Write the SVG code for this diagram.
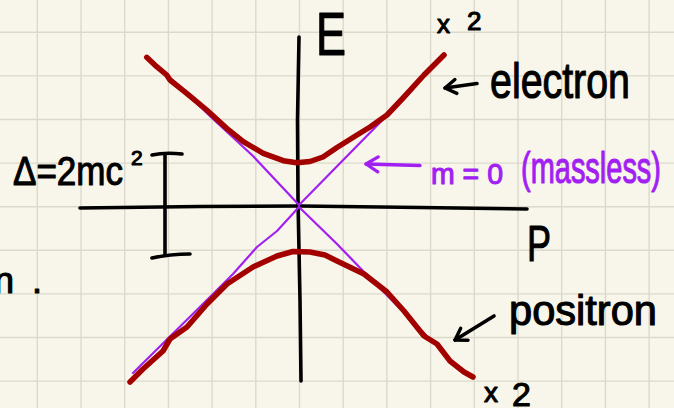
<svg xmlns="http://www.w3.org/2000/svg" width="674" height="408" viewBox="0 0 674 408">
<style>
.grid line{stroke:#dcd9cc;stroke-width:1.4}
.ink{fill:none;stroke:#000;stroke-width:3.6;stroke-linecap:round;stroke-linejoin:round}
.red{fill:none;stroke:#a30000;stroke-width:5.5;stroke-linecap:round;stroke-linejoin:round}
.pur{fill:none;stroke:#a21ff2;stroke-width:2.2;stroke-linecap:round;stroke-linejoin:round}
.purw{fill:none;stroke:#a21ff2;stroke-width:3.4;stroke-linecap:round;stroke-linejoin:round}
.t{font-family:"Liberation Sans","DejaVu Sans",sans-serif;fill:#000;stroke:#000;stroke-width:1.1;stroke-linejoin:round}
.tp{font-family:"Liberation Sans","DejaVu Sans",sans-serif;fill:#a21ff2;stroke:#a21ff2;stroke-width:1.1;stroke-linejoin:round}
</style>
<defs>
<marker id="hk" viewBox="-14 -10 16 20" refX="0" refY="0" markerWidth="16" markerHeight="20" markerUnits="userSpaceOnUse" orient="auto">
<path d="M-11,-7 L0,0 L-11,7" fill="none" stroke="#000" stroke-width="3.4" stroke-linecap="round" stroke-linejoin="round"/>
</marker>
<marker id="hp" viewBox="-14 -10 16 20" refX="0" refY="0" markerWidth="16" markerHeight="20" markerUnits="userSpaceOnUse" orient="auto">
<path d="M-12,-7.5 L0,0 L-12,7.5" fill="none" stroke="#a21ff2" stroke-width="3.2" stroke-linecap="round" stroke-linejoin="round"/>
</marker>
</defs>
<rect width="674" height="408" fill="#f8f6ea"/>
<g class="grid">
<line x1="37.3" y1="0" x2="37.3" y2="408"/><line x1="81" y1="0" x2="81" y2="408"/><line x1="124.7" y1="0" x2="124.7" y2="408"/><line x1="168.4" y1="0" x2="168.4" y2="408"/><line x1="212.1" y1="0" x2="212.1" y2="408"/><line x1="255.8" y1="0" x2="255.8" y2="408"/><line x1="299.5" y1="0" x2="299.5" y2="408"/><line x1="343.2" y1="0" x2="343.2" y2="408"/><line x1="386.9" y1="0" x2="386.9" y2="408"/><line x1="430.6" y1="0" x2="430.6" y2="408"/><line x1="474.3" y1="0" x2="474.3" y2="408"/><line x1="518" y1="0" x2="518" y2="408"/><line x1="561.7" y1="0" x2="561.7" y2="408"/><line x1="605.4" y1="0" x2="605.4" y2="408"/><line x1="649.1" y1="0" x2="649.1" y2="408"/>
<line x1="0" y1="32.3" x2="674" y2="32.3"/><line x1="0" y1="75.9" x2="674" y2="75.9"/><line x1="0" y1="119.5" x2="674" y2="119.5"/><line x1="0" y1="163.1" x2="674" y2="163.1"/><line x1="0" y1="206.7" x2="674" y2="206.7"/><line x1="0" y1="250.3" x2="674" y2="250.3"/><line x1="0" y1="293.9" x2="674" y2="293.9"/><line x1="0" y1="337.5" x2="674" y2="337.5"/><line x1="0" y1="381.1" x2="674" y2="381.1"/>
</g>
<g id="axes">
<path class="ink" d="M299,37 L297.5,120 L298,200 L300,300 L301,381"/>
<path class="ink" d="M80,208 L200,206.5 L300,206 L420,207.5 L527,209"/>
</g>
<g id="massless-lines">
<path class="pur" d="M170,78 L212,118 L253,156 L299,205 L409,93"/>
<path class="pur" d="M299,207 L277,231 L257,247 L233,274 L213,294 L133,373"/>
<path class="pur" d="M299,207 L337,244 L367,275 L426,335"/>
</g>
<g id="electron-curve">
<path class="red" d="M146.7,57.3 L156.7,66.7 L166.7,75 L170,80 L186.7,93.3 L206.7,110 L226.7,128.3 L243.3,141.7 L263.3,153.3 L283.3,160.7 L296.7,162.7 L310,161.5 L323,157 L337,147.5 L357,135 L370,127 L387,115 L404,97 L424,75 L444,55"/>
</g>
<g id="positron-curve">
<path class="red" d="M130,382 L143,369 L163,351 L170,339 L187,327 L207,304 L227,284 L253,267 L277,256 L293,251.5 L310,252 L325,255 L337,261 L364,274 L387,292 L404,311 L424,336 L437,344 L450,361 L464,372 L473,377"/>
</g>
<g id="gap-bracket">
<path class="ink" d="M152,155 Q165,152 182,154"/>
<path class="ink" d="M165,155 L165,255"/>
<path class="ink" d="M152,258 Q170,254 190,254"/>
</g>
<g id="connectors">
<path class="ink" d="M477,83.5 L445,88" marker-end="url(#hk)"/>
<path class="purw" d="M420,165.5 L366,164" marker-end="url(#hp)"/>
<path class="ink" d="M494,316 L455,340" marker-end="url(#hk)"/>
</g>
<g id="label-E"><text class="t" x="316" y="55" font-size="62" textLength="30" lengthAdjust="spacingAndGlyphs">E</text></g>
<g id="label-x2-top"><text class="t" x="437" y="33" font-size="26">x<tspan x="467" y="30">2</tspan></text></g>
<g id="label-electron"><text class="t" x="490" y="98" font-size="50" textLength="140" lengthAdjust="spacingAndGlyphs">electron</text></g>
<g id="label-massless"><text class="tp" x="431" y="184" font-size="30" textLength="72" lengthAdjust="spacingAndGlyphs">m = 0</text><text class="tp" x="521" y="183" font-size="44" textLength="140" lengthAdjust="spacingAndGlyphs">(massless)</text></g>
<g id="label-gap"><text class="t" x="13" y="185" font-size="40" textLength="110" lengthAdjust="spacingAndGlyphs">Δ=2mc</text><text class="t" x="131" y="165" font-size="21">2</text></g>
<g id="label-p"><text class="t" x="527" y="261" font-size="50" textLength="24" lengthAdjust="spacingAndGlyphs">P</text></g>
<g id="label-positron"><text class="t" x="509" y="325" font-size="42" textLength="148" lengthAdjust="spacingAndGlyphs">positron</text></g>
<g id="label-x2-bottom"><text class="t" x="484" y="402" font-size="28">x<tspan x="512" y="406" font-size="34">2</tspan></text></g>
<g id="label-n"><text class="t" x="-6" y="293" font-size="36">n<tspan dx="18">.</tspan></text></g>
</svg>
